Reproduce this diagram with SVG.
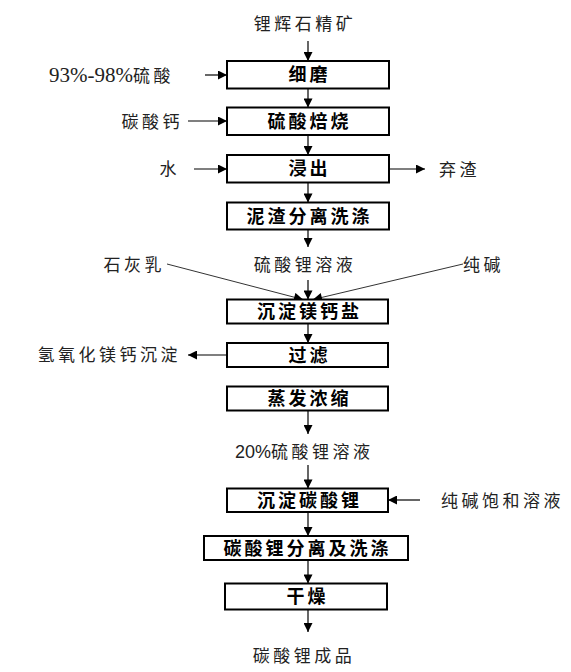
<svg xmlns="http://www.w3.org/2000/svg" width="571" height="672" viewBox="0 0 571 672">
<style>
.box{fill:#fff;stroke:#000;stroke-width:2}
.bt{font-family:"Noto Sans CJK SC",sans-serif;font-size:18px;font-weight:bold;letter-spacing:3px;text-anchor:middle;fill:#000}
.lb{font-family:"Noto Sans CJK SC",sans-serif;font-size:17px;letter-spacing:3.5px;fill:#222}
.ln{stroke:#000;stroke-width:1.2;fill:none;marker-end:url(#ah)}
.dg{stroke:#333;stroke-width:1;fill:none;marker-end:url(#ah)}
</style>
<defs>
<marker id="ah" viewBox="0 0 10 10" refX="10" refY="5" markerWidth="10" markerHeight="9" markerUnits="userSpaceOnUse" orient="auto">
<path d="M0,0 L10,5 L0,10 z" fill="#000"/>
</marker>
</defs>
<rect width="571" height="672" fill="#fff"/>

<g id="connectors">
<line class="ln" x1="308" y1="41" x2="308" y2="61"/>
<line class="ln" x1="308" y1="88.5" x2="308" y2="107.5"/>
<line class="ln" x1="308" y1="135" x2="308" y2="155"/>
<line class="ln" x1="308" y1="182.5" x2="308" y2="202.5"/>
<line class="ln" x1="308" y1="229.5" x2="308" y2="247"/>
<line class="ln" x1="308" y1="280" x2="308" y2="299.5"/>
<line class="dg" x1="167" y1="264" x2="303" y2="299.5"/>
<line class="dg" x1="463" y1="264" x2="313" y2="299.5"/>
<line class="ln" x1="308" y1="323.5" x2="308" y2="343"/>
<line class="ln" x1="227" y1="355" x2="188" y2="355"/>
<line class="ln" x1="308" y1="410.5" x2="308" y2="434"/>
<line class="ln" x1="308" y1="465" x2="308" y2="488.5"/>
<line class="ln" x1="420" y1="500" x2="388" y2="500"/>
<line class="ln" x1="308" y1="512" x2="308" y2="536"/>
<line class="ln" x1="308" y1="560" x2="308" y2="583.5"/>
<line class="ln" x1="308" y1="609.5" x2="308" y2="632"/>
<line class="ln" x1="205" y1="75" x2="227" y2="75"/>
<line class="ln" x1="188" y1="121" x2="227" y2="121"/>
<line class="ln" x1="194" y1="169" x2="227" y2="169"/>
<line class="ln" x1="389" y1="169" x2="425" y2="169"/>
</g>

<g id="n1"><rect class="box" x="227" y="61" width="162" height="27.5"/><text class="bt" x="309.5" y="81">细磨</text></g>
<g id="n2"><rect class="box" x="227" y="107.5" width="162" height="27.5"/><text class="bt" x="309.5" y="127.5">硫酸焙烧</text></g>
<g id="n3"><rect class="box" x="227" y="155" width="162" height="27.5"/><text class="bt" x="309.5" y="175">浸出</text></g>
<g id="n4"><rect class="box" x="227" y="202.5" width="162" height="27"/><text class="bt" x="309.5" y="222.5">泥渣分离洗涤</text></g>
<g id="n5"><rect class="box" x="227" y="299.5" width="161" height="24"/><text class="bt" x="309.5" y="318">沉淀镁钙盐</text></g>
<g id="n6"><rect class="box" x="227" y="343" width="161" height="24"/><text class="bt" x="309.5" y="361.5">过滤</text></g>
<g id="n7"><rect class="box" x="227" y="386.5" width="161" height="24"/><text class="bt" x="309.5" y="405">蒸发浓缩</text></g>
<g id="n8"><rect class="box" x="227" y="488.5" width="161" height="23.5"/><text class="bt" x="309.5" y="506.5">沉淀碳酸锂</text></g>
<g id="n9"><rect class="box" x="204" y="536" width="204" height="24"/><text class="bt" x="307.5" y="554.5">碳酸锂分离及洗涤</text></g>
<g id="n10"><rect class="box" x="225" y="583.5" width="162" height="26"/><text class="bt" x="307.5" y="603">干燥</text></g>

<g id="l1"><text class="lb" x="305" y="30" text-anchor="middle">锂辉石精矿</text></g>
<g id="l2"><text class="lb" x="49" y="82"><tspan font-family="Liberation Serif" letter-spacing="0" font-size="21px">93%-98%</tspan><tspan>硫酸</tspan></text></g>
<g id="l3"><text class="lb" x="183" y="128" text-anchor="end">碳酸钙</text></g>
<g id="l4"><text class="lb" x="180" y="175" text-anchor="end">水</text></g>
<g id="l5"><text class="lb" x="439" y="176">弃渣</text></g>
<g id="l6"><text class="lb" x="165" y="271" text-anchor="end">石灰乳</text></g>
<g id="l7"><text class="lb" x="305" y="271" text-anchor="middle">硫酸锂溶液</text></g>
<g id="l8"><text class="lb" x="463" y="271">纯碱</text></g>
<g id="l9"><text class="lb" x="181" y="361" text-anchor="end">氢氧化镁钙沉淀</text></g>
<g id="l10"><text class="lb" x="235" y="458"><tspan font-family="Liberation Sans" letter-spacing="0" font-size="18px">20%</tspan><tspan>硫酸锂溶液</tspan></text></g>
<g id="l11"><text class="lb" x="441" y="507">纯碱饱和溶液</text></g>
<g id="l12"><text class="lb" x="304" y="662" text-anchor="middle">碳酸锂成品</text></g>
</svg>
